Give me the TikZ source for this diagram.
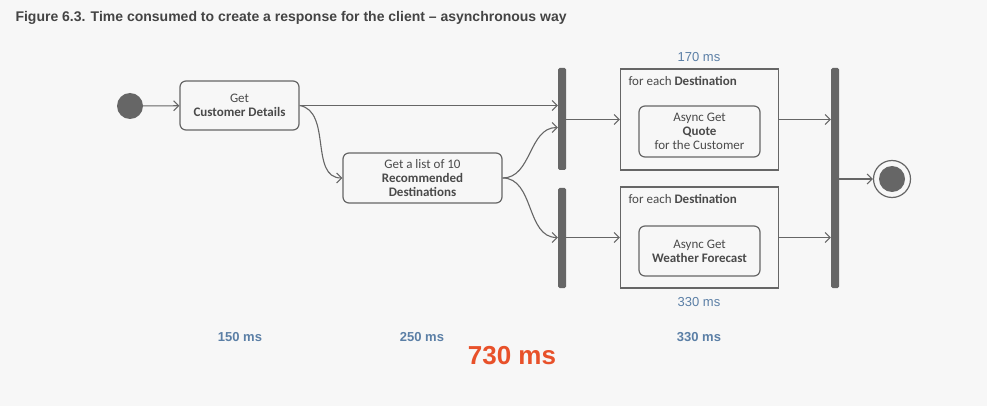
\documentclass[tikz,border=0pt]{standalone}
\usepackage{fontspec}
\setmainfont{Carlito}
\newfontfamily\headfont{Liberation Sans}
\usetikzlibrary{arrows.meta}

\definecolor{paper}{HTML}{F7F7F7}
\definecolor{linegray}{HTML}{666666}
\definecolor{bargray}{HTML}{666666}
\definecolor{textgray}{HTML}{4A4A4A}
\definecolor{headgray}{HTML}{444444}
\definecolor{msblue}{HTML}{5B7FA6}
\definecolor{totalred}{HTML}{E8512A}

\tikzset{
  action/.style={draw=linegray, line width=1.2pt, rounded corners=6pt, align=center,
    text=textgray, font=\fontsize{13}{14}\selectfont, inner sep=0pt},
  loopbox/.style={draw=linegray, line width=1.2pt, inner sep=0pt},
  syncbar/.style={fill=bargray, rounded corners=1.5pt, minimum width=8pt, inner sep=0pt},
  flow/.style={draw=linegray, line width=1.1pt, -{Straight Barb[length=5pt,width=10pt]}},
  ms/.style={font=\headfont\bfseries\fontsize{13}{14}\selectfont, text=msblue},
}

\begin{document}
\begin{tikzpicture}[x=1pt,y=-1pt]
  \useasboundingbox[fill=paper] (0,0) rectangle (987,406);

  % title
  \node[anchor=west, text=headgray, font=\headfont\bfseries\fontsize{14}{16}\selectfont]
    (title) at (12,18) {Figure 6.3. Time consumed to create a response for the client \textendash\ asynchronous way};

  % start and end
  \node[circle, fill=bargray, minimum size=26pt, inner sep=0pt] (start) at (130,106) {};
  \node[circle, draw=linegray, line width=1.2pt, fill=paper, minimum size=37pt, inner sep=0pt] (final) at (892,179) {};
  \node[circle, fill=bargray, minimum size=26pt, inner sep=0pt] (finaldot) at (final) {};

  % actions
  \node[action, minimum width=119pt, minimum height=49pt] (details) at (239.5,105.5)
    {Get\\\textbf{Customer Details}};
  \node[action, minimum width=159pt, minimum height=50pt] (destinations) at (422.5,178)
    {Get a list of 10\\\textbf{Recommended}\\\textbf{Destinations}};

  % fork bars
  \node[syncbar, minimum height=102pt] (fork1) at (562,119) {};
  \node[syncbar, minimum height=100pt] (fork2) at (562,238) {};
  \node[syncbar, minimum height=220pt] (join) at (835,178) {};

  % loops
  \node[loopbox, minimum width=158pt, minimum height=101pt] (quoteloop) at (699.5,119.5) {};
  \node[loopbox, minimum width=158pt, minimum height=101pt] (weatherloop) at (699.5,237.5) {};
  \node[anchor=west, text=textgray, font=\fontsize{13}{14}\selectfont] (quotelabel) at (625,81)
    {for each \textbf{Destination}};
  \node[anchor=west, text=textgray, font=\fontsize{13}{14}\selectfont] (weatherlabel) at (625,199)
    {for each \textbf{Destination}};
  \node[action, minimum width=121pt, minimum height=51pt] (quote) at (699.5,131.5)
    {Async Get\\\textbf{Quote}\\for the Customer};
  \node[action, minimum width=121pt, minimum height=50pt] (weather) at (699.5,251)
    {Async Get\\\textbf{Weather Forecast}};

  % flows
  \draw[flow] (start) -- (details);
  \draw[flow] (details.east) -- (fork1.west |- details.east);
  \draw[flow] (details.east) to[out=-10, in=180] (destinations.west);
  \draw[flow] (destinations.east) to[out=0, in=180] ([yshift=-22pt]fork1.west |- details.east);
  \draw[flow] (destinations.east) to[out=0, in=180] (fork2.west |- weatherloop.west);
  \draw[flow] (fork1.east |- quoteloop.west) -- (quoteloop.west);
  \draw[flow] (fork2.east |- weatherloop.west) -- (weatherloop.west);
  \draw[flow] (quoteloop.east) -- (join.west |- quoteloop.east);
  \draw[flow] (weatherloop.east) -- (join.west |- weatherloop.east);
  \draw[flow] (join.east |- final.west) -- (final.west);

  % timings
  \node[ms, font=\headfont\fontsize{13}{14}\selectfont] (quotetime) at (699,57) {170 ms};
  \node[ms, font=\headfont\fontsize{13}{14}\selectfont] (weathertime) at (699,302) {330 ms};
  \node[ms] (detailstime) at (240,337) {150 ms};
  \node[ms] (destinationstime) at (422,337) {250 ms};
  \node[ms] (looptime) at (699,337) {330 ms};
  \node[text=totalred, font=\headfont\bfseries\fontsize{26}{28}\selectfont] (total) at (512,356) {730 ms};
\end{tikzpicture}
\end{document}
